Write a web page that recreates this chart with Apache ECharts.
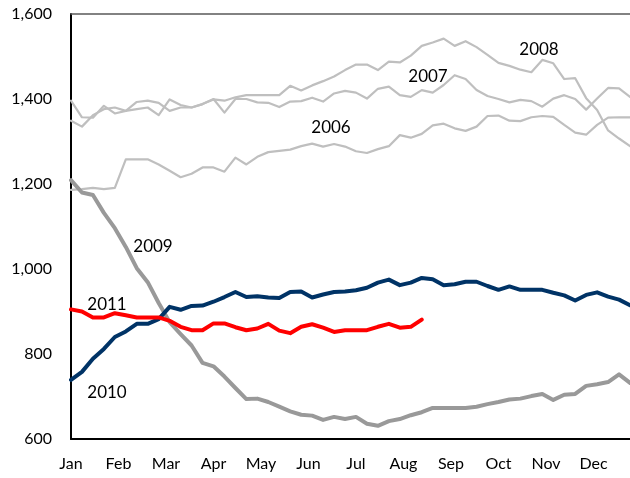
<!DOCTYPE html>
<html><head><meta charset="utf-8">
<script src="https://cdn.jsdelivr.net/npm/echarts@6/dist/echarts.min.js"></script>
<style>html,body{margin:0;padding:0;background:#fff}#c{width:630px;height:478px}</style>
</head><body><div id="c"></div>
<script>
var months = ['Jan','Feb','Mar','Apr','May','Jun','Jul','Aug','Sep','Oct','Nov','Dec'];
var yTicks = [600, 800, 1000, 1200, 1400, 1600];
var y2006 = [1186,1188,1191,1188,1191,1258,1258,1258,1246,1231,1216,1224,1239,1239,1229,1262,1246,1264,1275,1278,1281,1289,1295,1288,1294,1288,1277,1273,1282,1289,1315,1309,1318,1338,1342,1331,1325,1335,1360,1361,1349,1348,1357,1360,1358,1339,1321,1316,1339,1356,1357,1357];
var y2007 = [1349,1335,1362,1376,1380,1372,1376,1380,1362,1399,1386,1380,1388,1400,1368,1400,1400,1392,1391,1381,1394,1395,1403,1394,1413,1419,1415,1401,1424,1429,1409,1405,1421,1415,1433,1456,1447,1421,1407,1400,1392,1398,1395,1382,1401,1409,1400,1375,1401,1426,1425,1405];
var y2008 = [1396,1357,1356,1384,1366,1372,1393,1396,1391,1372,1380,1380,1388,1399,1396,1404,1409,1409,1409,1409,1431,1420,1432,1442,1453,1468,1481,1481,1468,1488,1486,1502,1525,1533,1542,1525,1536,1522,1504,1485,1478,1469,1463,1492,1484,1447,1449,1402,1374,1326,1307,1289];
var y2009 = [1209,1180,1174,1132,1096,1052,1002,969,920,875,847,820,779,771,747,720,694,695,687,676,665,657,655,645,652,647,652,636,631,642,647,656,663,673,673,673,673,676,682,687,693,695,701,706,692,704,706,725,729,734,752,732];
var y2010 = [739,758,789,812,840,853,871,871,882,911,904,913,914,923,934,946,934,936,933,932,946,947,933,940,946,947,950,956,968,975,962,968,979,976,962,964,970,970,960,951,959,951,951,951,944,938,926,939,945,935,928,915];
var y2011 = [905,900,886,886,896,891,886,886,886,878,864,856,856,872,872,863,856,860,871,855,849,864,870,862,852,856,856,856,864,871,862,864,881];

function pts(arr){ return arr.map(function(v,i){ return [i, v]; }); }
var FONT = 'Lato';
var weekPerMonth = 52/12;

var chart = echarts.init(document.getElementById('c'), null, {renderer:'canvas'});
function ln(name, arr, color, width, z){
  return {name:name, type:'line', data:pts(arr), symbol:'none', z:z,
    lineStyle:{color:color, width:width, join:'round', cap:'round'}, animation:false};
}
function lbl(text, x, y){
  return {type:'text', x:x, y:y, z:100, style:{text:text, fontFamily:FONT, fontSize:17, fill:'#000', textAlign:'center', textVerticalAlign:'middle'}};
}
chart.setOption({
  animation:false,
  grid:{left:71, right:0, top:14, bottom:39},
  xAxis:[{
    type:'value', min:0, max:51, interval:weekPerMonth,
    axisLine:{show:true, onZero:false, lineStyle:{color:'#000', width:2}},
    axisTick:{show:false}, splitLine:{show:false},
    axisLabel:{margin:17, color:'#000', fontFamily:FONT, fontSize:16,
      showMaxLabel:false,
      formatter:function(v){ var k=v/weekPerMonth; var r=Math.round(k); return Math.abs(k-r)<0.01 && r<12 ? months[r] : ''; }}
  },{
    type:'value', min:0, max:51, position:'top',
    axisLine:{show:true, onZero:false, lineStyle:{color:'#595959', width:1.5}},
    axisTick:{show:false}, splitLine:{show:false}, axisLabel:{show:false}
  }],
  yAxis:{
    type:'value', min:yTicks[0], max:yTicks[yTicks.length-1], interval:200,
    axisLine:{show:true, lineStyle:{color:'#000', width:2}},
    axisTick:{show:false}, splitLine:{show:false},
    axisLabel:{margin:19, color:'#000', fontFamily:FONT, fontSize:16,
      formatter:function(v){ return v.toLocaleString('en-US'); }}
  },
  series:[
    ln('2006', y2006, '#bfbfbf', 2.2, 1),
    ln('2007', y2007, '#bfbfbf', 2.2, 1),
    ln('2008', y2008, '#bfbfbf', 2.2, 1),
    ln('2009', y2009, '#999999', 4, 2),
    ln('2010', y2010, '#003366', 4, 3),
    ln('2011', y2011, '#ff0000', 4, 4)
  ],
  graphic:[
    lbl('2006', 331, 128),
    lbl('2007', 428, 77),
    lbl('2008', 539, 50),
    lbl('2009', 153, 247),
    lbl('2011', 107, 305),
    lbl('2010', 107, 393)
  ]
});
</script></body></html>
